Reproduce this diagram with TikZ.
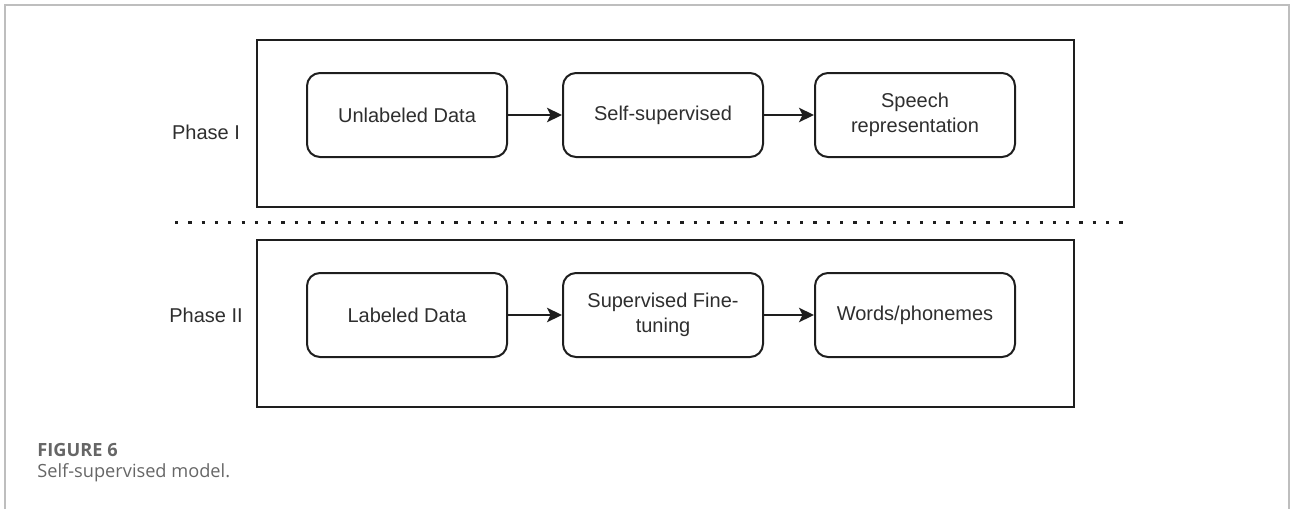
\documentclass[tikz,border=0pt]{standalone}
\usepackage{fontspec}
\setmainfont{Liberation Sans}
\newfontfamily\capfont{Open Sans}
\usetikzlibrary{arrows.meta}
\definecolor{inkline}{HTML}{1E1E1E}
\definecolor{inktext}{HTML}{2E2E2E}
\definecolor{framegray}{HTML}{BEBEBE}
\definecolor{capgray}{HTML}{666666}
\begin{document}
\begin{tikzpicture}[x=0.5pt,y=-0.5pt,
  phasebox/.style={draw=inkline,line width=1pt,rectangle,minimum width=408.5pt,minimum height=83.5pt,inner sep=0pt},
  stagebox/.style={draw=inkline,line width=1pt,rectangle,rounded corners=6.5pt,minimum width=100pt,minimum height=42pt,
    inner sep=0pt,align=center,text=inktext,font=\fontsize{10pt}{12.5pt}\selectfont},
  phaselabel/.style={text=inktext,font=\fontsize{10pt}{12pt}\selectfont,inner sep=0pt},
  flow/.style={draw=inkline,line width=1pt,-{Stealth[length=7.5pt,width=7.2pt,inset=1.8pt]}},
  divider/.style={draw=inkline,line width=1.6pt,dash pattern=on 1.6pt off 5.05pt},
]
\useasboundingbox (0,0) rectangle (1290,509);

% outer figure frame
\draw[framegray,line width=0.9pt] (5,509) -- (5,5) -- (1288.8,5) -- (1288.8,509);

% phase frames
\node[phasebox] (p1) at (665.5,123.5) {};
\node[phasebox] (p2) at (665.5,323.5) {};

% phase labels
\node[phaselabel] (l1) at (206,132) {Phase I};
\node[phaselabel] (l2) at (206,315) {Phase II};

% phase I pipeline
\node[stagebox] (u) at (407,115) {Unlabeled Data};
\node[stagebox] (s) at (663,115) {Self-supervised};
\node[stagebox] (r) at (915,115) {Speech\\representation};

% phase II pipeline
\node[stagebox] (d) at (407,315) {Labeled Data};
\node[stagebox] (f) at (663,315) {Supervised Fine-\\tuning};
\node[stagebox] (w) at (915,315) {Words/phonemes};

\draw[flow] (u) -- (s);
\draw[flow] (s) -- (r);
\draw[flow] (d) -- (f);
\draw[flow] (f) -- (w);

% separator between the two phases
\coordinate (dl) at (175,222.5);
\coordinate (dr) at (1125,222.5);
\draw[divider] (dl) -- (dr);

% caption
\node[anchor=base west,inner sep=0pt,text=capgray,font=\capfont\bfseries\fontsize{9.1pt}{10pt}\selectfont] (cap) at (37,456) {FIGURE 6};
\node[anchor=base west,inner sep=0pt,text=capgray,font=\capfont\fontsize{9.1pt}{10pt}\selectfont] (capt) at (37,477.5) {Self-supervised model.};
\end{tikzpicture}
\end{document}
